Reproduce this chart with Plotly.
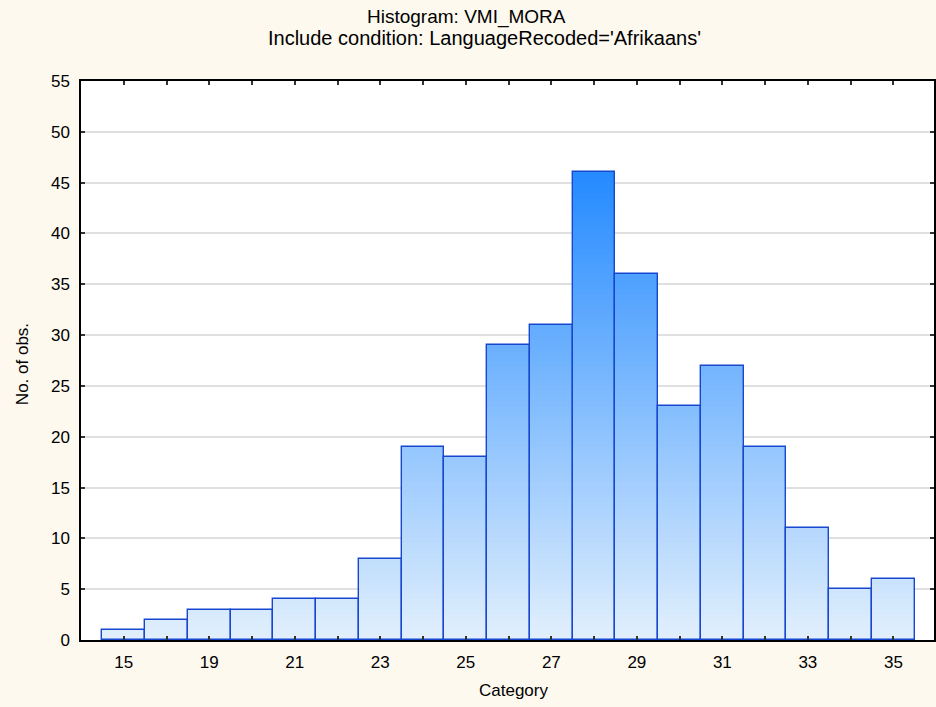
import plotly.graph_objects as go
import numpy as np

categories = ["15", "18", "19", "20", "21", "22", "23", "24", "25", "26", "27",
              "28", "29", "30", "31", "32", "33", "34", "35"]
counts = [1, 2, 3, 3, 4, 4, 8, 19, 18, 29, 31, 46, 36, 23, 27, 19, 11, 5, 6]
tick_labels = ["15", "19", "21", "23", "25", "27", "29", "31", "33", "35"]

title_main = "Histogram: VMI_MORA"
title_sub = "Include condition: LanguageRecoded='Afrikaans'"

FONT = "Liberation Sans, Arial, sans-serif"
bottom_rgb = np.array([226, 240, 253])
top_rgb = np.array([36, 138, 255])

W, H = 936, 707
L, R, T, B = 81, 0, 81, 67
PW, PH = W - L - R, H - T - B

fig = go.Figure()
vals = np.array(counts, dtype=float)
vmax = vals.max()
step = 0.5
levels = np.arange(0, vmax, step)
for k in levels:
    h = np.clip(vals - k, 0, step)
    t = (k + step / 2) / vmax
    c = bottom_rgb + (top_rgb - bottom_rgb) * t
    col = "rgb(%d,%d,%d)" % tuple(c.round().astype(int))
    fig.add_trace(go.Bar(
        x=categories, y=h, base=[k] * len(h),
        marker=dict(color=col, line=dict(width=0)),
        width=1.0, hoverinfo="skip", showlegend=False))

fig.add_trace(go.Bar(
    x=categories, y=counts, width=1.0,
    marker=dict(color="rgba(0,0,0,0)", line=dict(color="#1746CF", width=1.4)),
    showlegend=False))

fig.update_layout(
    barmode="overlay",
    bargap=0,
    width=W, height=H,
    paper_bgcolor="#FDF9EF",
    plot_bgcolor="white",
    margin=dict(l=L, r=R, t=T, b=B, pad=0),
    font=dict(family=FONT, size=17, color="black"),
)

fig.add_annotation(text=title_main, xref="paper", yref="paper", x=(467 - L) / PW,
                   y=1 + (T - 17) / PH, showarrow=False, xanchor="center",
                   yanchor="middle", font=dict(size=19, family=FONT))
fig.add_annotation(text=title_sub, xref="paper", yref="paper", x=(485 - L) / PW,
                   y=1 + (T - 38) / PH, showarrow=False, xanchor="center",
                   yanchor="middle", font=dict(size=20, family=FONT))
fig.add_annotation(text="Category", xref="paper", yref="paper", x=(515 - L) / PW,
                   y=-(690 - (T + PH)) / PH, showarrow=False, xanchor="center",
                   yanchor="middle", font=dict(size=17, family=FONT))
fig.add_annotation(text="No. of obs.", xref="paper", yref="paper", x=-(L - 22) / PW,
                   y=(T + PH - 364) / PH, showarrow=False, xanchor="center",
                   yanchor="middle", textangle=-90, font=dict(size=17, family=FONT))

fig.update_xaxes(
    type="category",
    categoryorder="array", categoryarray=categories,
    range=[-1, len(categories) - 0.05],
    tickmode="array", tickvals=categories,
    ticktext=[c if c in tick_labels else "" for c in categories],
    showgrid=False, zeroline=False,
    showline=True, linecolor="black", linewidth=1.5, mirror="ticks",
    ticks="inside", ticklen=4, tickcolor="#333", tickwidth=2,
    tickfont=dict(size=17),
    ticklabelstandoff=6,
)
fig.update_yaxes(
    range=[0, 55], dtick=5, tick0=0,
    showgrid=True, gridcolor="#E0E0E0", gridwidth=2,
    zeroline=False,
    showline=True, linecolor="black", linewidth=1.5, mirror="ticks",
    ticks="inside", ticklen=4, tickcolor="#333", tickwidth=2,
    tickfont=dict(size=17),
    ticklabelstandoff=6,
)

fig.write_html("out.html", config={"displayModeBar": False},
               post_script="document.body.style.margin='0';")
